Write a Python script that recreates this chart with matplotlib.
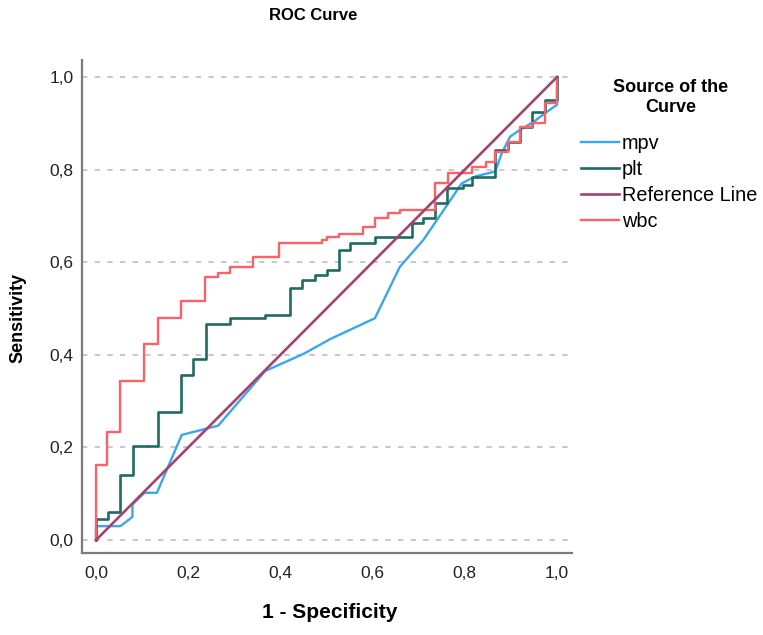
import matplotlib
matplotlib.use("Agg")
import matplotlib.pyplot as plt
from matplotlib.ticker import FuncFormatter

plt.rcParams['font.family'] = ['Liberation Sans', 'DejaVu Sans']

# ROC points (1 - specificity, sensitivity)
mpv_x = [0.0, 0.0, 0.053, 0.079, 0.079, 0.105, 0.132, 0.186, 0.265, 0.367, 0.452,
         0.508, 0.605, 0.659, 0.710, 0.764, 0.793, 0.822, 0.866, 0.880, 0.898,
         0.920, 0.949, 0.974, 1.0, 1.0]
mpv_y = [0.0, 0.030, 0.030, 0.050, 0.077, 0.102, 0.102, 0.227, 0.247, 0.365, 0.403,
         0.434, 0.479, 0.590, 0.648, 0.727, 0.770, 0.785, 0.796, 0.835, 0.871,
         0.886, 0.903, 0.922, 0.940, 1.0]

# step curves: corner points, drawn right-then-up
plt_x = [0.0, 0.0, 0.027, 0.053, 0.080, 0.134, 0.184, 0.211, 0.239, 0.291, 0.367,
         0.421, 0.446, 0.475, 0.500, 0.526, 0.551, 0.605, 0.685, 0.710, 0.735,
         0.762, 0.795, 0.815, 0.866, 0.894, 0.920, 0.945, 0.974, 1.0]
plt_y = [0.0, 0.045, 0.060, 0.140, 0.204, 0.277, 0.356, 0.392, 0.466, 0.480, 0.487,
         0.545, 0.562, 0.572, 0.583, 0.626, 0.641, 0.655, 0.684, 0.695, 0.727,
         0.760, 0.767, 0.785, 0.842, 0.860, 0.893, 0.925, 0.950, 1.0]

wbc_x = [0.0, 0.0, 0.0245, 0.053, 0.105, 0.134, 0.184, 0.236, 0.264, 0.291, 0.341,
         0.397, 0.490, 0.500, 0.526, 0.580, 0.605, 0.634, 0.659, 0.735, 0.764,
         0.815, 0.845, 0.866, 0.894, 0.920, 0.945, 0.974, 1.0]
wbc_y = [0.0, 0.162, 0.233, 0.343, 0.424, 0.480, 0.516, 0.567, 0.576, 0.589, 0.611,
         0.641, 0.648, 0.655, 0.660, 0.677, 0.695, 0.706, 0.713, 0.770, 0.792,
         0.806, 0.817, 0.838, 0.860, 0.893, 0.900, 0.943, 1.0]

ref_x = [0.0, 1.0]
ref_y = [0.0, 1.0]

tick_vals = [0.0, 0.2, 0.4, 0.6, 0.8, 1.0]

fig = plt.figure(figsize=(7.63, 6.35), dpi=100)
ax = fig.add_axes([82 / 763, 1 - 553 / 635, 490 / 763, 493 / 635])

for y in tick_vals:
    ax.axhline(y, color='#c4c4c4', lw=1.3, ls=(0, (3, 4)), zorder=1)

ax.plot(mpv_x, mpv_y, color='#3aa6ee', lw=1.7, label='mpv', zorder=3)
ax.plot(plt_x, plt_y, color='#1f6b64', lw=1.9, drawstyle='steps-post', label='plt', zorder=3)
ax.plot(ref_x, ref_y, color='#a8416f', lw=1.9, label='Reference Line', zorder=4)
ax.plot(wbc_x, wbc_y, color='#ff5f66', lw=1.7, drawstyle='steps-post', label='wbc', zorder=3)

ax.set_xlim(-0.0304, 1.0325)
ax.set_ylim(-0.028, 1.0367)
ax.set_xticks(tick_vals)
ax.set_yticks(tick_vals)
fmt = FuncFormatter(lambda v, p: f"{v:.1f}".replace('.', ','))
ax.xaxis.set_major_formatter(fmt)
ax.yaxis.set_major_formatter(fmt)
ax.tick_params(axis='both', length=0, labelsize=12.5, colors='#222222')
ax.tick_params(axis='x', pad=9)
ax.tick_params(axis='y', pad=6)

for s in ['top', 'right']:
    ax.spines[s].set_visible(False)
for s in ['left', 'bottom']:
    ax.spines[s].set_color('#7a7a7a')
    ax.spines[s].set_linewidth(1.6)

fig.text(313 / 763, 1 - 15 / 635, 'ROC Curve', ha='center', va='center',
         fontsize=12, fontweight='bold')
fig.text(330 / 763, 1 - 612 / 635, '1 - Specificity', ha='center', va='center',
         fontsize=15, fontweight='bold')
fig.text(18 / 763, 1 - 318 / 635, 'Sensitivity', ha='center', va='center',
         rotation=90, fontsize=13, fontweight='bold')

# legend title drawn as two lines
fig.text(671 / 763, 1 - 88 / 635, 'Source of the', ha='center', va='center',
         fontsize=13, fontweight='bold')
fig.text(671 / 763, 1 - 107 / 635, 'Curve', ha='center', va='center',
         fontsize=13, fontweight='bold')

leg = ax.legend(loc='upper left', bbox_to_anchor=(571 / 763, 1 - 124 / 635),
                bbox_transform=fig.transFigure, frameon=False, fontsize=14.3,
                handlelength=1.9, handletextpad=0.15, labelspacing=0.36,
                borderpad=0)

fig.savefig('out.png', dpi=100)
